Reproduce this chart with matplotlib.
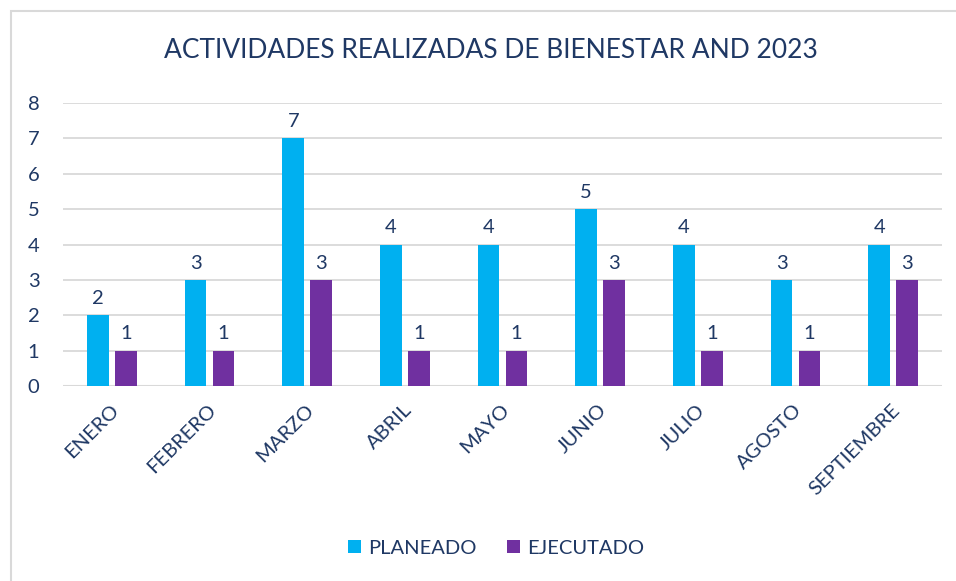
import matplotlib.pyplot as plt
import numpy as np
from matplotlib.patches import Rectangle

meses = ['ENERO', 'FEBRERO', 'MARZO', 'ABRIL', 'MAYO', 'JUNIO', 'JULIO', 'AGOSTO', 'SEPTIEMBRE']
planeado = [2, 3, 7, 4, 4, 5, 4, 3, 4]
ejecutado = [1, 1, 3, 1, 1, 3, 1, 1, 3]

azul = '#00B0F0'
morado = '#7030A0'
texto = '#1F3864'
gris = '#D9D9D9'

plt.rcParams['font.family'] = ['Lato', 'DejaVu Sans']

fig = plt.figure(figsize=(9.56, 5.81), dpi=100)
ax = fig.add_axes([63 / 956, 195 / 581, 879 / 956, 283 / 581])

x = np.arange(len(meses))
ancho = 0.22
sep = 0.143

b1 = ax.bar(x - sep, planeado, ancho, color=azul, label='PLANEADO', zorder=3)
b2 = ax.bar(x + sep, ejecutado, ancho, color=morado, label='EJECUTADO', zorder=3)

# etiquetas de datos
for barras in (b1, b2):
    for b in barras:
        ax.annotate(str(int(b.get_height())), (b.get_x() + b.get_width() / 2, b.get_height()),
                    xytext=(0, 6), textcoords='offset points', ha='center', va='bottom',
                    fontsize=14.5, color=texto)

ax.set_xlim(-0.5, len(meses) - 0.5)
ax.set_ylim(0, 8)
ax.set_yticks(range(0, 9))
ax.grid(axis='y', color=gris, linewidth=1.3, zorder=0)
for s in ax.spines.values():
    s.set_visible(False)
ax.axhline(0, color=gris, linewidth=1.5, zorder=2)
ax.tick_params(axis='both', length=0, labelsize=14.5, labelcolor=texto)
ax.tick_params(axis='y', pad=17)
ax.set_xticks(x - 0.02)
ax.set_xticklabels(meses, rotation=45, ha='right', va='top', rotation_mode='anchor')
ax.tick_params(axis='x', pad=11)

fig.text(491 / 956, 1 - 50 / 581, 'ACTIVIDADES REALIZADAS DE BIENESTAR AND 2023',
         ha='center', va='center', fontsize=19, color=texto)

ax.legend(loc='center', bbox_to_anchor=(496 / 956, 1 - 548 / 581), bbox_transform=fig.transFigure,
          ncol=2, frameon=False, fontsize=14.5, labelcolor=texto, handlelength=0.65, handleheight=0.65,
          handletextpad=0.35, columnspacing=1.5)

fig.patches.append(Rectangle((11 / 956, -0.1), 2, 1 - 11 / 581 + 0.1, transform=fig.transFigure,
                             fill=False, edgecolor=gris, linewidth=1.5))

fig.savefig('out.png', dpi=100)
